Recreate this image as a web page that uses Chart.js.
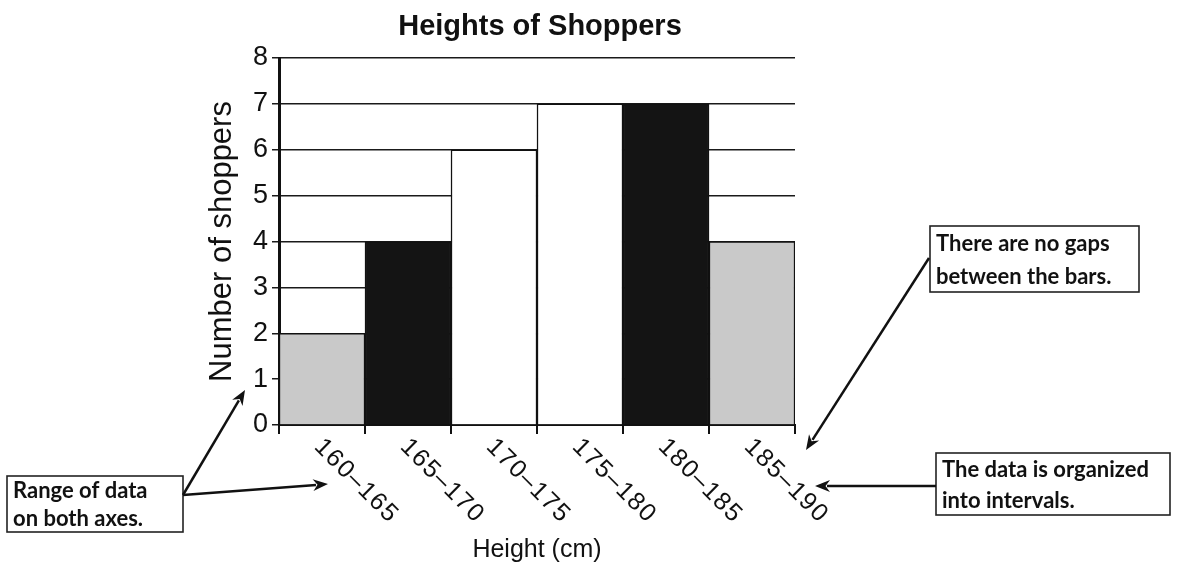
<!DOCTYPE html>
<html>
<head>
<meta charset="utf-8">
<script src="https://cdn.jsdelivr.net/npm/chart.js@4.4.1/dist/chart.umd.min.js"></script>
<style>
  html, body { margin: 0; padding: 0; background: #fff; }
  #wrap { width: 1177px; height: 569px; position: relative; }
</style>
</head>
<body>
<div id="wrap"><canvas id="hist"></canvas></div>
<script>
// data
const intervals = ['160–165', '165–170', '170–175', '175–180', '180–185', '185–190'];
const shoppers = [2, 4, 6, 7, 7, 4];
const barFills = ['#c9c9c9', '#141414', '#ffffff', '#ffffff', '#141414', '#c9c9c9'];

const chartTitle = 'Heights of Shoppers';
const xTitle = 'Height (cm)';
const yTitle = 'Number of shoppers';

const noteRange = ['Range of data', 'on both axes.'];
const noteGaps = ['There are no gaps', 'between the bars.'];
const noteIntervals = ['The data is organized', 'into intervals.'];

const SANS = '"Liberation Sans", Arial, sans-serif';
const NOTE_FONT = 'Lato, "DejaVu Sans", sans-serif';

function arrow(ctx, x1, y1, x2, y2) {
    const a = Math.atan2(y2 - y1, x2 - x1);
    const len = 15, half = 6;
    ctx.save();
    ctx.strokeStyle = '#111';
    ctx.fillStyle = '#111';
    ctx.lineWidth = 2.5;
    ctx.beginPath();
    ctx.moveTo(x1, y1);
    ctx.lineTo(x2 - Math.cos(a) * len * 0.8, y2 - Math.sin(a) * len * 0.8);
    ctx.stroke();
    ctx.beginPath();
    ctx.moveTo(x2, y2);
    ctx.lineTo(x2 - Math.cos(a) * len - Math.sin(a) * half, y2 - Math.sin(a) * len + Math.cos(a) * half);
    ctx.lineTo(x2 - Math.cos(a) * len * 0.7, y2 - Math.sin(a) * len * 0.7);
    ctx.lineTo(x2 - Math.cos(a) * len + Math.sin(a) * half, y2 - Math.sin(a) * len - Math.cos(a) * half);
    ctx.closePath();
    ctx.fill();
    ctx.restore();
}

function noteBox(ctx, lines, x, y, w, h) {
    ctx.save();
    ctx.strokeStyle = '#222';
    ctx.lineWidth = 1.6;
    ctx.fillStyle = '#fff';
    ctx.fillRect(x, y, w, h);
    ctx.strokeRect(x, y, w, h);
    // size the text so the longest line fills the box
    const pad = 6;
    ctx.font = `700 20px ${NOTE_FONT}`;
    const widest = Math.max(...lines.map(l => ctx.measureText(l).width));
    const size = Math.min(22, 20 * (w - pad * 2) / widest);
    ctx.font = `700 ${size}px ${NOTE_FONT}`;
    ctx.fillStyle = '#111';
    ctx.textAlign = 'left';
    ctx.textBaseline = 'middle';
    const step = h / lines.length;
    lines.forEach((l, i) => ctx.fillText(l, x + pad, y + step * (i + 0.5) + 1));
    ctx.restore();
}

const decorations = {
    id: 'decorations',
    afterDraw(chart) {
        const ctx = chart.ctx;
        const area = chart.chartArea;
        const xs = chart.scales.x;

        // title
        ctx.save();
        ctx.font = `bold 29px ${SANS}`;
        ctx.fillStyle = '#111';
        ctx.textAlign = 'center';
        ctx.textBaseline = 'alphabetic';
        ctx.fillText(chartTitle, (area.left + area.right) / 2 + 3, 35);
        ctx.restore();

        // slanted interval labels
        ctx.save();
        ctx.font = `25px ${SANS}`;
        ctx.fillStyle = '#111';
        ctx.textAlign = 'left';
        ctx.textBaseline = 'middle';
        if ('letterSpacing' in ctx) ctx.letterSpacing = '1.5px';
        intervals.forEach((lab, i) => {
            const px = xs.getPixelForValue(i);
            ctx.save();
            ctx.translate(px - 4, area.bottom + 18);
            ctx.rotate(Math.PI / 4);
            ctx.fillText(lab, 0, 0);
            ctx.restore();
        });
        ctx.restore();

        // call-outs
        noteBox(ctx, noteRange, 7, 476, 176, 56);
        arrow(ctx, 183, 495, 245, 390);
        arrow(ctx, 183, 495, 328, 484);

        noteBox(ctx, noteGaps, 930, 226, 209, 66);
        arrow(ctx, 929, 258, 806, 450);

        noteBox(ctx, noteIntervals, 936, 453, 234, 62);
        arrow(ctx, 936, 486, 815, 486);
    }
};

new Chart(document.getElementById('hist'), {
    type: 'bar',
    data: {
        labels: intervals,
        datasets: [{
            label: 'Number of shoppers',
            data: shoppers,
            backgroundColor: barFills,
            borderColor: '#111',
            borderWidth: 1.5,
            barPercentage: 1,
            categoryPercentage: 1
        }]
    },
    options: {
        responsive: true,
        maintainAspectRatio: false,
        animation: false,
        devicePixelRatio: 1,
        layout: { padding: { left: 204, right: 382, top: 58, bottom: 0 } },
        plugins: {
            legend: { display: false },
            title: { display: false },
            tooltip: { enabled: false }
        },
        scales: {
            x: {
                ticks: { display: false },
                grid: { drawOnChartArea: false, drawTicks: true, tickLength: 9, color: '#111', lineWidth: 2 },
                border: { display: true, color: '#111', width: 2 },
                title: {
                    display: true,
                    text: xTitle,
                    color: '#111',
                    font: { family: SANS, size: 25 },
                    padding: { top: 0, bottom: 4 }
                },
                afterFit: s => { s.height = 144; }
            },
            y: {
                min: 0,
                max: 8,
                ticks: { stepSize: 1, color: '#111', font: { family: SANS, size: 27 }, padding: 4 },
                grid: { color: '#1a1a1a', lineWidth: 1.5, drawTicks: true, tickLength: 7 },
                border: { display: true, color: '#111', width: 3 },
                title: {
                    display: true,
                    text: yTitle,
                    color: '#111',
                    font: { family: SANS, size: 31 },
                    padding: { top: 0, bottom: 0 }
                },
                afterFit: s => { s.width = 75; }
            }
        }
    },
    plugins: [decorations]
});
</script>
</body>
</html>
